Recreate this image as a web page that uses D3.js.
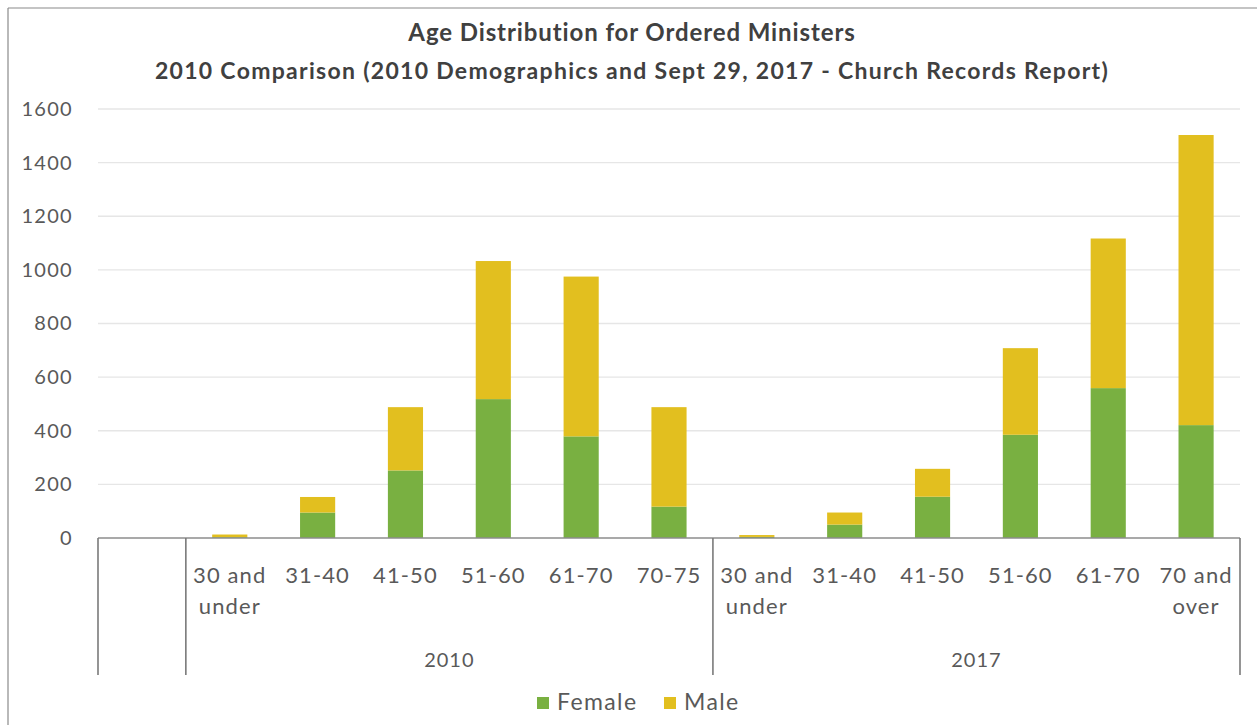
<!DOCTYPE html>
<html>
<head>
<meta charset="utf-8">
<script src="https://cdn.jsdelivr.net/npm/d3@7"></script>
<style>
  html, body { margin: 0; padding: 0; background: #fff; }
  svg { display: block; }
  text { font-family: Lato, "Open Sans", sans-serif; }
</style>
</head>
<body>
<svg id="chart" width="1257" height="725"></svg>
<script>
const titleLines = ["Age Distribution for Ordered Ministers",
  "2010 Comparison (2010 Demographics and Sept 29, 2017 - Church Records Report)"];
const categories = ["", "30 and under", "31-40", "41-50", "51-60", "61-70", "70-75",
  "30 and under", "31-40", "41-50", "51-60", "61-70", "70 and over"];
const groupOf = ["", "2010", "2010", "2010", "2010", "2010", "2010",
  "2017", "2017", "2017", "2017", "2017", "2017"];
const groups = ["2010", "2017"];
const female = [0, 3, 95, 252, 518, 379, 117, 4, 50, 154, 385, 559, 421];
const male = [0, 10, 58, 236, 515, 596, 371, 7, 45, 104, 323, 558, 1082];
const seriesNames = ["Female", "Male"];
const seriesColors = ["#79B041", "#E2BF1F"];
const yTicks = [0, 200, 400, 600, 800, 1000, 1200, 1400, 1600];

const svg = d3.select("#chart");
const W = 1257, H = 725;
const plot = { left: 98, right: 1240, top: 109, bottom: 538 };

// frame
svg.append("line").attr("x1", 8).attr("x2", W).attr("y1", 8).attr("y2", 8)
  .attr("stroke", "#8a8a8a").attr("stroke-width", 1.2);
svg.append("line").attr("x1", 8).attr("x2", 8).attr("y1", 8).attr("y2", H)
  .attr("stroke", "#8a8a8a").attr("stroke-width", 1.2);

const idx = categories.map((c, i) => i);
const x = d3.scaleBand().domain(idx).range([plot.left, plot.right])
  .paddingInner(0.6).paddingOuter(0.3);
const y = d3.scaleLinear().domain([0, 1600]).range([plot.bottom, plot.top]);

// gridlines
svg.append("g").selectAll("line").data(yTicks.filter(t => t > 0)).join("line")
  .attr("x1", plot.left).attr("x2", plot.right)
  .attr("y1", d => y(d)).attr("y2", d => y(d))
  .attr("stroke", "#e6e6e6").attr("stroke-width", 1.3);

// y axis labels
const yAxis = d3.axisLeft(y).tickValues(yTicks).tickFormat(d3.format("d")).tickSize(0).tickPadding(0);
const ya = svg.append("g").attr("transform", "translate(73,0)").call(yAxis);
ya.select(".domain").remove();
ya.selectAll("text").attr("font-size", 20).attr("fill", "#595959")
  .attr("letter-spacing", 1.3).attr("font-family", "Lato, sans-serif");

// bars
const rows = idx.map(i => ({ i, Female: female[i], Male: male[i] }));
const stack = d3.stack().keys(seriesNames)(rows);
svg.append("g").selectAll("g").data(stack).join("g")
  .attr("fill", (d, k) => seriesColors[k])
  .selectAll("rect").data(d => d).join("rect")
  .attr("x", d => x(d.data.i))
  .attr("width", x.bandwidth())
  .attr("y", d => y(d[1]))
  .attr("height", d => y(d[0]) - y(d[1]));

// x axis line
svg.append("line").attr("x1", plot.left).attr("x2", plot.right)
  .attr("y1", plot.bottom).attr("y2", plot.bottom)
  .attr("stroke", "#8c8c8c").attr("stroke-width", 1.6);

// group dividers
const step = x.step();
const slotLeft = i => plot.left + i * step;
const firstIdx = g => groupOf.indexOf(g);
const lastIdx = g => groupOf.lastIndexOf(g);
const dividers = [0, 1, firstIdx("2017"), categories.length];
svg.append("g").selectAll("line").data(dividers).join("line")
  .attr("x1", d => slotLeft(d)).attr("x2", d => slotLeft(d))
  .attr("y1", plot.bottom).attr("y2", 675)
  .attr("stroke", "#7a7a7a").attr("stroke-width", 1.6);

// category labels
const catG = svg.append("g");
categories.forEach((c, i) => {
  if (!c) return;
  const cx = x(i) + x.bandwidth() / 2;
  const parts = c.indexOf(" and ") >= 0 ? [c.slice(0, c.indexOf(" and ") + 4), c.slice(c.indexOf(" and ") + 5)] : [c];
  parts.forEach((p, k) => {
    catG.append("text").attr("x", cx).attr("y", 577 + k * 31)
      .attr("text-anchor", "middle").attr("dominant-baseline", "middle")
      .attr("font-size", 22).attr("letter-spacing", 1.1).attr("fill", "#595959").text(p);
  });
});

// group labels
groups.forEach(g => {
  const cx = (slotLeft(firstIdx(g)) + slotLeft(lastIdx(g) + 1)) / 2;
  svg.append("text").attr("x", cx).attr("y", 662)
    .attr("text-anchor", "middle").attr("dominant-baseline", "middle")
    .attr("font-size", 20).attr("letter-spacing", 1).attr("fill", "#595959").text(g);
});

// title
titleLines.forEach((t, k) => {
  svg.append("text").attr("x", 632).attr("y", 35 + k * 38)
    .attr("text-anchor", "middle").attr("dominant-baseline", "middle")
    .attr("font-size", k === 0 ? 24 : 23).attr("font-weight", 700)
    .attr("letter-spacing", k === 0 ? 0.9 : 1.3)
    .attr("fill", "#404040").text(t);
});

// legend
const legendX = [537, 664];
seriesNames.forEach((s, k) => {
  svg.append("rect").attr("x", legendX[k]).attr("y", 697).attr("width", 12).attr("height", 12)
    .attr("fill", seriesColors[k]);
  svg.append("text").attr("x", legendX[k] + 20).attr("y", 704)
    .attr("dominant-baseline", "middle").attr("font-size", 23).attr("letter-spacing", 1.4)
    .attr("fill", "#595959").text(s);
});
</script>
</body>
</html>
